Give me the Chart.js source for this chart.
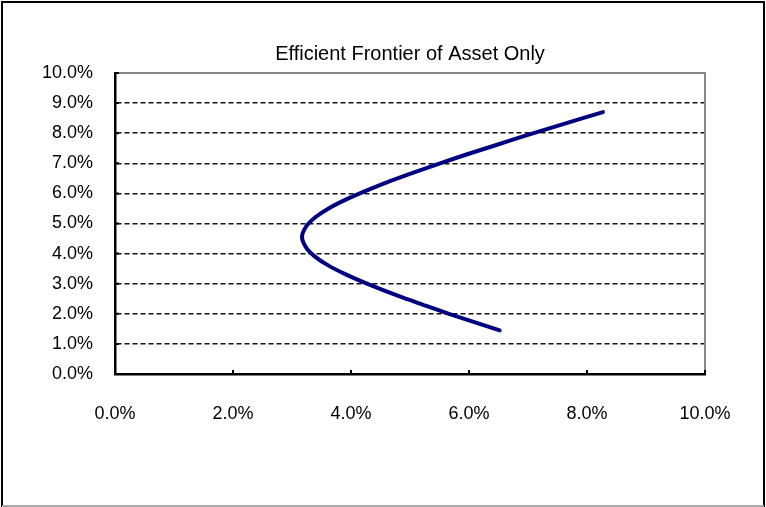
<!DOCTYPE html>
<html>
<head>
<meta charset="utf-8">
<script src="https://cdn.jsdelivr.net/npm/chart.js@4"></script>
<style>
  html, body { margin: 0; padding: 0; background: #fff; }
  #wrap { width: 766px; height: 507px; position: relative; }
</style>
</head>
<body>
<div id="wrap"><canvas id="myChart" width="766" height="507"></canvas></div>
<script>
// risk (x, %) and expected return (y, %) along the frontier
const risk = [6.52, 6.13, 5.66, 5.22, 4.79, 4.27, 3.92, 3.62, 3.39, 3.24, 3.17, 3.24, 3.39, 3.62, 3.92, 4.27, 4.65, 5.07, 5.51, 5.97, 6.45, 6.93, 7.43, 7.93, 8.27];
const ret  = [1.45, 1.70, 2.00, 2.30, 2.60, 3.00, 3.30, 3.60, 3.90, 4.20, 4.55, 4.90, 5.20, 5.50, 5.80, 6.10, 6.40, 6.70, 7.00, 7.30, 7.60, 7.90, 8.20, 8.50, 8.70];

const xTicks = [0, 2, 4, 6, 8, 10];
const yTicks = [0, 1, 2, 3, 4, 5, 6, 7, 8, 9, 10];
const chartTitle = 'Efficient Frontier of Asset Only';

const points = risk.map((r, i) => ({ x: r, y: ret[i] }));

// frame, gray top/right plot border and little inside tick marks like excel
const excelBits = {
  id: 'excelBits',
  beforeDraw(chart) {
    const ctx = chart.ctx;
    ctx.save();
    ctx.fillStyle = '#fff';
    ctx.fillRect(0, 0, chart.width, chart.height);
    ctx.lineWidth = 2;
    ctx.strokeStyle = '#000';
    ctx.beginPath();
    ctx.moveTo(2, 507); ctx.lineTo(2, 2); ctx.lineTo(764, 2); ctx.lineTo(764, 507);
    ctx.stroke();
    ctx.strokeStyle = '#aaa';
    ctx.beginPath();
    ctx.moveTo(2, 506); ctx.lineTo(764, 506);
    ctx.stroke();
    ctx.restore();
  },
  afterDraw(chart) {
    const ctx = chart.ctx;
    const a = chart.chartArea;
    const xs = chart.scales.x, ys = chart.scales.y;
    ctx.save();
    ctx.strokeStyle = '#888';
    ctx.lineWidth = 2;
    ctx.beginPath();
    ctx.moveTo(a.left, a.top); ctx.lineTo(a.right, a.top); ctx.lineTo(a.right, a.bottom);
    ctx.stroke();
    ctx.strokeStyle = '#000';
    ctx.lineWidth = 2;
    ctx.beginPath();
    xTicks.forEach(v => {
      const px = xs.getPixelForValue(v);
      ctx.moveTo(px, a.bottom); ctx.lineTo(px, a.bottom - 4);
    });
    yTicks.forEach(v => {
      const py = ys.getPixelForValue(v);
      ctx.moveTo(a.left, py); ctx.lineTo(a.left + 4, py);
    });
    ctx.stroke();
    ctx.restore();
  }
};

const ctx = document.querySelector('#myChart').getContext('2d');
new Chart(ctx, {
  type: 'scatter',
  data: {
    datasets: [{
      label: 'Frontier',
      data: points,
      showLine: true,
      borderColor: '#000080',
      borderWidth: 4,
      pointRadius: 0,
      tension: 0.3,
      borderCapStyle: 'round',
      borderJoinStyle: 'round'
    }]
  },
  options: {
    responsive: false,
    animation: false,
    layout: { padding: { top: 42, left: 0, right: 61, bottom: 0 } },
    plugins: {
      legend: { display: false },
      tooltip: { enabled: false },
      title: {
        display: true,
        text: chartTitle,
        fullSize: false,
        color: '#000',
        font: { family: 'Liberation Sans', size: 20, weight: 'normal' },
        padding: { top: 0, bottom: 7 }
      }
    },
    scales: {
      x: {
        type: 'linear',
        min: 0, max: 10,
        afterBuildTicks: s => { s.ticks = xTicks.map(v => ({ value: v })); },
        afterFit: s => { s.height = 133; },
        grid: { display: false, drawTicks: false },
        border: { display: true, color: '#000', width: 2.5 },
        ticks: {
          color: '#000',
          padding: 29,
          font: { family: 'Liberation Sans', size: 18 },
          callback: v => v.toFixed(1) + '%'
        }
      },
      y: {
        type: 'linear',
        min: 0, max: 10,
        afterBuildTicks: s => { s.ticks = yTicks.map(v => ({ value: v })); },
        afterFit: s => { s.width = 115; },
        grid: {
          drawTicks: false,
          lineWidth: 1.5,
          color: c => (c.tick.value === 0 || c.tick.value === 10) ? 'rgba(0,0,0,0)' : '#111'
        },
        border: { display: true, color: '#000', width: 2.5, dash: [5, 3] },
        ticks: {
          color: '#000',
          padding: 22,
          font: { family: 'Liberation Sans', size: 18 },
          callback: v => v.toFixed(1) + '%'
        }
      }
    }
  },
  plugins: [excelBits]
});
</script>
</body>
</html>
